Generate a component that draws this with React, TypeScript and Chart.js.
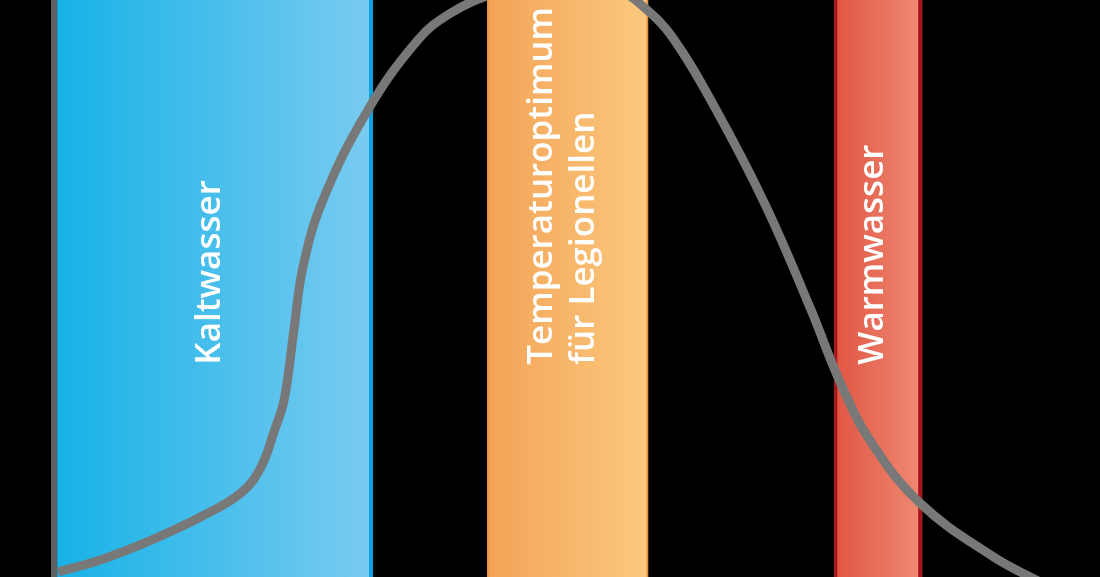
import React, { useEffect, useRef } from "react";
import { Chart, registerables } from "chart.js";

Chart.register(...registerables);

// Relative temperature axis (0–100) and relative legionella growth (0–100)
const curveX = [0.4, 4.5, 9.3, 14.0, 17.9, 19.8, 21.0, 22.0, 22.9, 23.8, 25.7, 30.0, 34.8, 37.9, 41.7, 48.0, 54.2, 56.5, 59.1, 63.2, 68.0, 72.3, 75.2, 78.0, 82.8, 89.8, 94.3];
const curveY = [0.9, 3.0, 6.4, 10.4, 14.6, 19.1, 25.0, 30.7, 42.3, 53.7, 65.3, 80.9, 93.1, 97.7, 100.9, 104.3, 101.4, 98.6, 93.6, 81.3, 64.5, 46.6, 33.6, 23.7, 12.8, 3.5, -0.9];

const bandNames = ["Kaltwasser", "Temperaturoptimum\nfür Legionellen", "Warmwasser"];
const bandFrom = [0.3, 41.4, 74.6];
const bandTo = [30.5, 56.8, 83.0];
const bandColorStart = ["#17b2e7", "#f3a357", "#e05642"];
const bandColorEnd = ["#7acbf0", "#fbc97e", "#ef8a73"];
const bandEdge = ["#0a9fdf", "#e88f3c", "#a8141b"];

const bandsPlugin = {
  id: "bands",
  beforeDatasetsDraw(chart: any) {
    const { ctx, chartArea, scales } = chart;
    const x = scales.x;
    ctx.save();
    for (let i = 0; i < bandNames.length; i++) {
      const l = x.getPixelForValue(bandFrom[i]);
      const r = x.getPixelForValue(bandTo[i]);
      const g = ctx.createLinearGradient(l, 0, r, 0);
      g.addColorStop(0, bandColorStart[i]);
      g.addColorStop(1, bandColorEnd[i]);
      ctx.fillStyle = g;
      ctx.fillRect(l, chartArea.top, r - l, chartArea.bottom - chartArea.top);
      ctx.fillStyle = bandEdge[i];
      if (i !== 0) ctx.fillRect(l, chartArea.top, i === 2 ? 3 : 1.5, chartArea.bottom - chartArea.top);
      ctx.fillRect(r - (i === 1 ? 1.5 : 4), chartArea.top, i === 1 ? 1.5 : 4, chartArea.bottom - chartArea.top);

      // vertical label
      const lines = bandNames[i].split("\n");
      const cx = (l + r) / 2;
      const lineGap = 42;
      ctx.save();
      ctx.fillStyle = "#ffffff";
      ctx.font = "600 35px 'Open Sans'";
      ctx.textAlign = "left";
      ctx.textBaseline = "alphabetic";
      const y0 = chartArea.top + (chartArea.bottom - chartArea.top) * 0.632;
      const total = (lines.length - 1) * lineGap;
      lines.forEach((ln, j) => {
        const bx = cx + 5 - total / 2 + j * lineGap;
        ctx.save();
        ctx.translate(bx, y0);
        ctx.rotate(-Math.PI / 2);
        ctx.fillText(ln, 0, 0);
        ctx.restore();
      });
      ctx.restore();
    }
    ctx.restore();
  },
};

export default function App() {
  const ref = useRef<HTMLCanvasElement | null>(null);
  useEffect(() => {
    document.body.style.margin = "0";
    document.body.style.background = "#000";
    const c = ref.current!;
    const chart = new Chart(c, {
      type: "line",
      data: {
        datasets: [
          {
            label: "Legionellenwachstum",
            data: curveX.map((v, i) => ({ x: v, y: curveY[i] })),
            borderColor: "#787878",
            borderWidth: 9,
            pointRadius: 0,
            fill: false,
            tension: 0.4,
          },
        ],
      },
      options: {
        responsive: false,
        animation: false,
        layout: { padding: { left: 46, right: 0, top: 0, bottom: 0 } },
        plugins: { legend: { display: false }, tooltip: { enabled: false } },
        scales: {
          x: { type: "linear", min: 0, max: 100, display: false },
          y: {
            min: 0,
            max: 100,
            display: true,
            ticks: { display: false },
            grid: { display: false },
            border: { display: true, color: "#5f5f5f", width: 6 },
          },
        },
      },
      plugins: [bandsPlugin],
    });
    return () => chart.destroy();
  }, []);
  return (
    <div style={{ width: 1100, height: 577, background: "#000" }}>
      <canvas ref={ref} width={1100} height={577} style={{ display: "block" }} />
    </div>
  );
}
